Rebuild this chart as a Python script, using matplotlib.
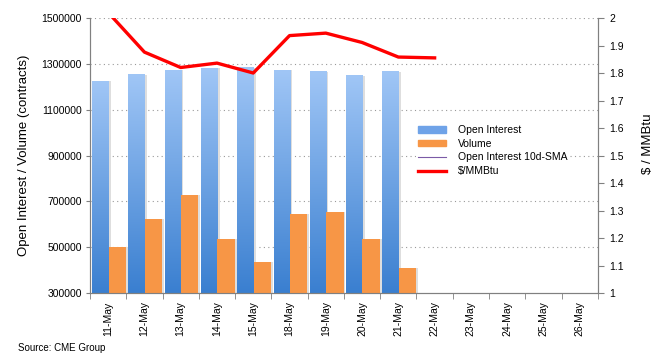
import matplotlib.pyplot as plt
import numpy as np
from matplotlib.lines import Line2D
from matplotlib.patches import Patch
from matplotlib.ticker import FuncFormatter
from matplotlib.colors import LinearSegmentedColormap

plt.rcParams['font.family'] = ['Liberation Sans', 'DejaVu Sans']

days = ["11-May", "12-May", "13-May", "14-May", "15-May", "18-May", "19-May",
        "20-May", "21-May", "22-May", "23-May", "24-May", "25-May", "26-May"]
open_interest = [1224000, 1253000, 1271000, 1280000, 1284000, 1271000, 1266000,
                 1249000, 1266000]
volume = [501000, 623000, 727000, 536000, 436000, 645000, 654000, 536000, 410000]
price = [2.02, 1.876, 1.82, 1.836, 1.80, 1.936, 1.945, 1.911, 1.858, 1.855]
oi_sma = []

fig = plt.figure(figsize=(6.57, 3.60), dpi=100)
ax = fig.add_axes([0.137, 0.186, 0.773, 0.764])
ax2 = ax.twinx()

x = np.arange(len(days))
ylo, yhi = 300000, 1500000

# open interest bars with a vertical gradient (light top, dark bottom)
grad = np.linspace(1, 0, 256).reshape(-1, 1)
bcmap = LinearSegmentedColormap.from_list('b', ['#3a7fd0', '#a0c6f6'])
for i, v in enumerate(open_interest):
    # soft shadow
    ax.bar(i - 0.43 + 0.05, v - ylo, bottom=ylo, width=0.45, align='edge',
           color='#dedede', zorder=1, linewidth=0)
    ax.imshow(grad, extent=[i - 0.44, i + 0.01, ylo, v], aspect='auto',
              cmap=bcmap, vmin=0, vmax=1, zorder=2)
for i, v in enumerate(volume):
    ax.bar(i + 0.01 + 0.05, v - ylo, bottom=ylo, width=0.48, align='edge',
           color='#dedede', zorder=2.5, linewidth=0)
    ax.bar(i + 0.01, v - ylo, bottom=ylo, width=0.48, align='edge',
           color='#f79646', zorder=3, linewidth=0)

ax.set_xlim(-0.5, len(days) - 0.5)
ax.set_ylim(ylo, yhi)
ax.set_yticks(np.arange(300000, 1500001, 200000))
ax.yaxis.set_major_formatter(FuncFormatter(lambda v, p: "%d" % v))
for yv in range(500000, 1500001, 200000):
    ax.axhline(yv, color='#999999', lw=0.8, ls=(0, (1, 3)), zorder=0.5)

ax.set_xticks(x)
ax.set_xticklabels(days, rotation=90, fontsize=7.5)
ax.set_xticks(np.arange(-0.5, len(days), 1), minor=True)
ax.tick_params(axis='x', which='major', length=0, pad=6)
ax.tick_params(axis='x', which='minor', length=4, color='#808080', direction='out')
ax.tick_params(axis='y', labelsize=7.5, length=3, color='#808080', pad=3)
ax.set_ylabel("Open Interest / Volume (contracts)", fontsize=9.5, labelpad=8)

ax2.plot(x[:len(price)], price, color='#ff0000', lw=2.4, zorder=5,
         solid_joinstyle='round')
ax2.plot(x[:len(oi_sma)], oi_sma, color='#7b5aa6', lw=0.8)
ax2.set_ylim(1, 2)
ax2.set_yticks(np.arange(1, 2.01, 0.1))
ax2.yaxis.set_major_formatter(FuncFormatter(lambda v, p: "%g" % round(v, 1)))
ax2.tick_params(axis='y', labelsize=7.5, length=4, color='#808080', pad=4)
ax2.set_ylabel("$ / MMBtu", fontsize=9.5)
ax2.yaxis.set_label_coords(1.087, 0.542)

for a in (ax, ax2):
    a.spines['top'].set_visible(False)
    for s in ('left', 'right', 'bottom'):
        a.spines[s].set_color('#808080')

handles = [Patch(color='#6fa3e8'), Patch(color='#f79646'),
           Line2D([], [], color='#7b5aa6', lw=0.8),
           Line2D([], [], color='#ff0000', lw=2.4)]
labels = ["Open Interest", "Volume", "Open Interest 10d-SMA", "$/MMBtu"]
leg = ax2.legend(handles, labels, loc='upper left', bbox_to_anchor=(0.642, 0.618),
                 frameon=True, fontsize=7.5, borderaxespad=0, borderpad=0.2,
                 handlelength=2.7, handleheight=0.6, handletextpad=1.1,
                 labelspacing=0.35, fancybox=False, framealpha=1)
leg.get_frame().set_facecolor('white')
leg.get_frame().set_edgecolor('none')

fig.text(0.027, 0.033, "Source: CME Group", fontsize=7, va='center')

fig.savefig("out.png", dpi=100)
